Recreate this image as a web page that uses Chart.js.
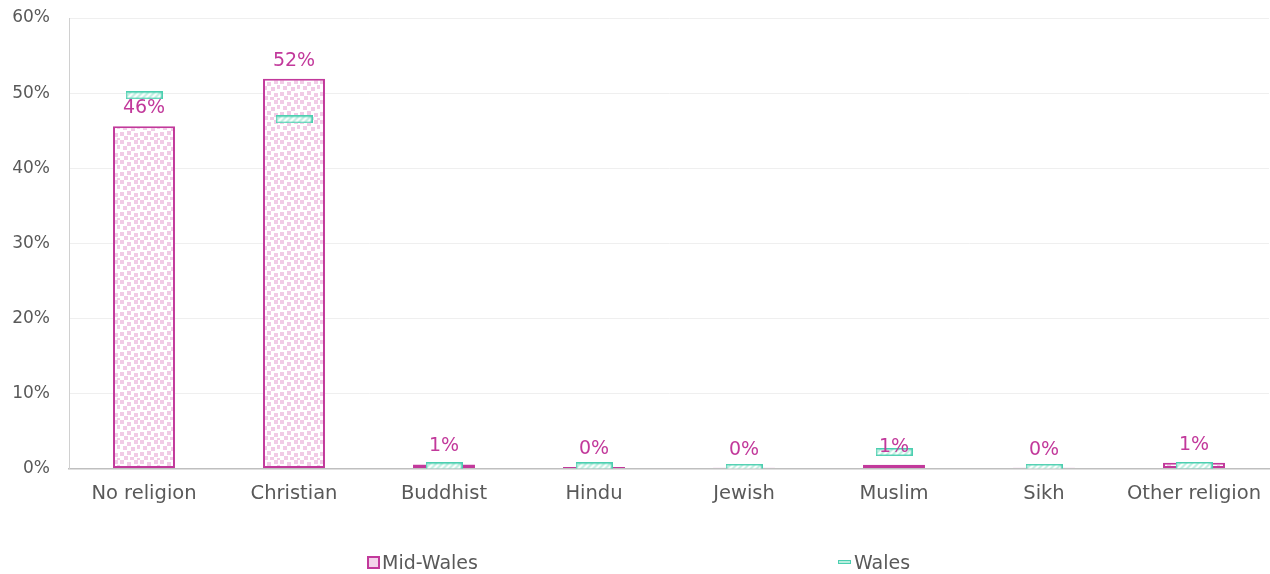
<!DOCTYPE html>
<html>
<head>
<meta charset="utf-8">
<script src="https://cdn.jsdelivr.net/npm/chart.js@4.4.1/dist/chart.umd.min.js"></script>
<style>
  html, body { margin: 0; padding: 0; background: #ffffff; }
  #wrap { position: relative; width: 1270px; height: 574px; overflow: hidden; }
  #c { position: absolute; left: 0; top: 0; }
  .lg { position: absolute; font-family: "DejaVu Sans", sans-serif; font-size: 19px; color: #595959; line-height: 22px; white-space: nowrap; }
  .sw1 { position: absolute; width: 9px; height: 9px; border: 2px solid #c2399b; background: #f3d3ea; }
  .sw2 { position: absolute; width: 11px; height: 2px; border: 1px solid #4ccfb0; background: #b9eedf; }
</style>
</head>
<body>
<div id="wrap">
  <canvas id="c" width="1270" height="574"></canvas>
  <div class="sw1" style="left:367px; top:556px;"></div>
  <div class="lg" style="left:382px; top:551px;">Mid-Wales</div>
  <div class="sw2" style="left:838px; top:560px;"></div>
  <div class="lg" style="left:854px; top:551px;">Wales</div>
</div>
<script>
// ---- data ----
const categories = ['No religion', 'Christian', 'Buddhist', 'Hindu', 'Jewish', 'Muslim', 'Sikh', 'Other religion'];
const midWalesValues = [45.6, 51.9, 0.56, 0.2, 0.1, 0.52, 0.1, 0.78];
const walesValues = [49.7, 46.5, 0.3, 0.3, 0.1, 2.2, 0.1, 0.35];
const yTickValues = [0, 10, 20, 30, 40, 50, 60];

const MAGENTA = '#c2399b';
const TEAL = '#4ccfb0';
const FONT = '"DejaVu Sans", sans-serif';

// dotted pink pattern for Mid-Wales bars
function makeBarPattern() {
  const t = document.createElement('canvas');
  t.width = 20; t.height = 20;
  const g = t.getContext('2d');
  g.fillStyle = '#ffffff';
  g.fillRect(0, 0, 20, 20);
  g.fillStyle = '#f1cbe6';
  const sq = [[0,0],[7,2],[14,0],[3,6],[11,7],[17,5],[0,12],[7,11],[14,13],[4,16],[10,17],[17,18]];
  sq.forEach(p => g.fillRect(p[0], p[1], 4, 4));
  return g.createPattern(t, 'repeat');
}

// hatched teal marker for Wales
function makeMarker() {
  const w = 37, h = 8;
  const m = document.createElement('canvas');
  m.width = w; m.height = h;
  const g = m.getContext('2d');
  g.fillStyle = '#ffffff';
  g.fillRect(0, 0, w, h);
  g.strokeStyle = '#bdeee0';
  g.lineWidth = 2;
  for (let x = -h; x < w + h; x += 6) {
    g.beginPath();
    g.moveTo(x, h);
    g.lineTo(x + h, 0);
    g.stroke();
  }
  g.strokeStyle = TEAL;
  g.lineWidth = 1.5;
  g.strokeRect(0.75, 0.75, w - 1.5, h - 1.5);
  return m;
}

const barLabels = {
  id: 'barLabels',
  afterDatasetsDraw(chart) {
    const ctx = chart.ctx;
    const meta = chart.getDatasetMeta(0);
    ctx.save();
    ctx.font = '19px ' + FONT;
    ctx.fillStyle = MAGENTA;
    ctx.textAlign = 'center';
    ctx.textBaseline = 'alphabetic';
    meta.data.forEach((bar, i) => {
      const v = midWalesValues[i];
      ctx.fillText(Math.round(v) + '%', bar.x, bar.y - 13);
    });
    ctx.restore();
  }
};

new Chart(document.getElementById('c'), {
  type: 'bar',
  data: {
    labels: categories,
    datasets: [
      {
        label: 'Mid-Wales',
        data: midWalesValues,
        backgroundColor: makeBarPattern(),
        borderColor: MAGENTA,
        borderWidth: 2,
        borderSkipped: false,
        categoryPercentage: 1,
        barPercentage: 0.413,
        order: 2
      },
      {
        label: 'Wales',
        type: 'line',
        data: walesValues,
        showLine: false,
        pointStyle: makeMarker(),
        pointRadius: 10,
        pointHoverRadius: 10,
        order: 1
      }
    ]
  },
  options: {
    responsive: false,
    animation: false,
    events: [],
    layout: { autoPadding: false, padding: { left: 10, right: 1, top: 18, bottom: 54 } },
    plugins: {
      legend: { display: false },
      tooltip: { enabled: false },
      title: { display: false }
    },
    scales: {
      x: {
        afterFit(axis) { axis.paddingLeft = 0; axis.paddingRight = 0; },
        grid: { display: false, drawTicks: false },
        border: { display: true, color: '#bfbfbf', width: 1.5 },
        ticks: { color: '#595959', font: { family: FONT, size: 19.5 }, padding: 14, maxRotation: 0 }
      },
      y: {
        min: 0,
        max: 60,
        afterBuildTicks(axis) { axis.ticks = yTickValues.map(v => ({ value: v })); },
        afterFit(axis) { axis.width = 59; axis.paddingTop = 0; axis.paddingBottom = 0; },
        grid: { color: '#efefef', lineWidth: 1, drawTicks: false },
        border: { display: true, color: '#d0d0d0', width: 1 },
        ticks: { color: '#595959', font: { family: FONT, size: 17 }, padding: 19, callback: v => v + '%' }
      }
    }
  },
  plugins: [barLabels]
});
</script>
</body>
</html>
